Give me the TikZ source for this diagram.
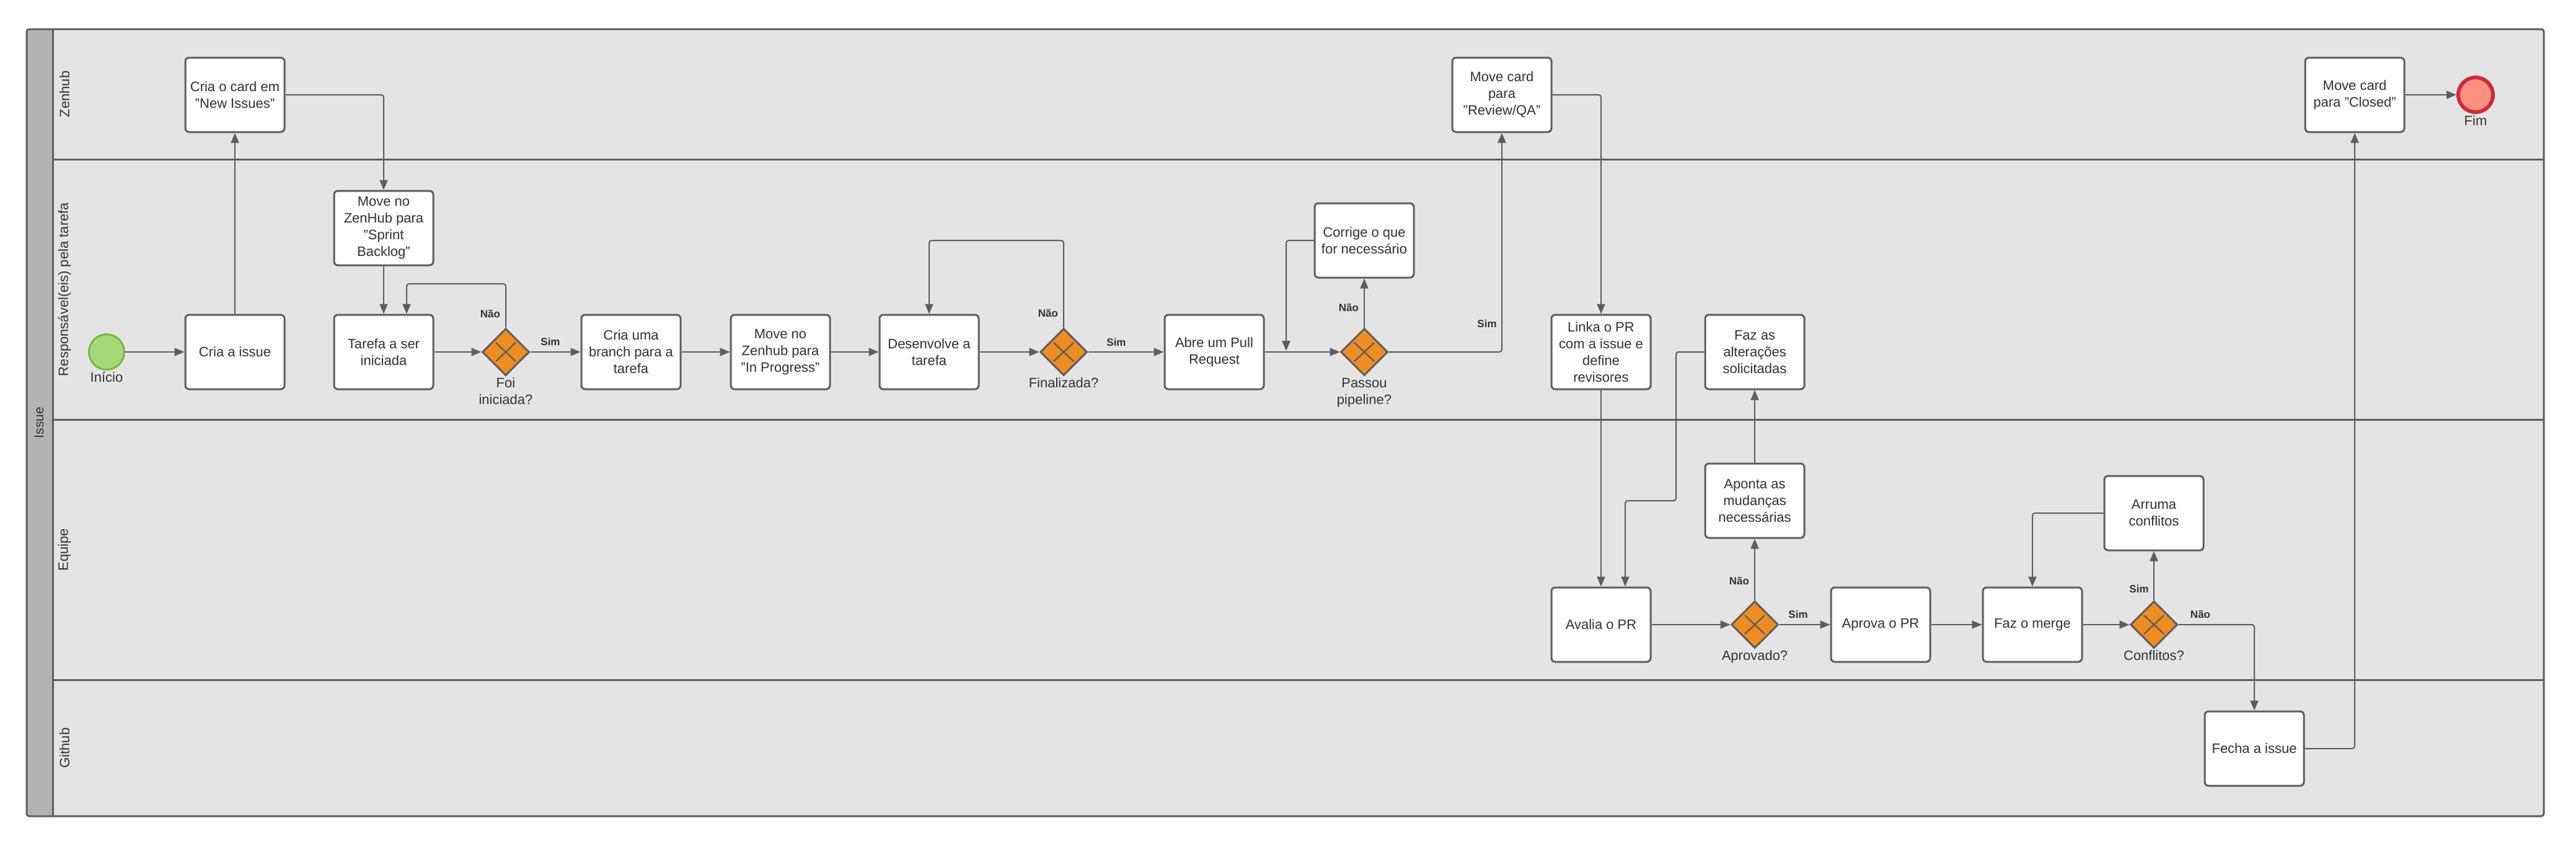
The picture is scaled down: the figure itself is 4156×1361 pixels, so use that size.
\documentclass[tikz,border=0pt]{standalone}
\usepackage{fontspec}
\setmainfont{Liberation Sans}
\usetikzlibrary{shapes.geometric,arrows.meta,positioning}

\definecolor{lanefill}{HTML}{E4E4E4}
\definecolor{barfill}{HTML}{B3B3B3}
\definecolor{linegray}{HTML}{5E5E5E}
\definecolor{textgray}{HTML}{333333}
\definecolor{gateorange}{HTML}{EF8D22}
\definecolor{startgreen}{HTML}{A3D977}
\definecolor{startline}{HTML}{7AB648}
\definecolor{endred}{HTML}{FF8F80}
\definecolor{endline}{HTML}{C92D39}

\begin{document}
\begin{tikzpicture}[x=0.5pt,y=-0.5pt,->,
			>={Triangle[length=8pt,width=6.5pt]},
			task/.style={rectangle,draw=linegray,line width=1.5pt,fill=white,rounded corners=3pt,minimum width=80pt,minimum height=60pt,inner sep=2pt,align=center,text=textgray,font=\fontsize{11}{13.5}\selectfont},
			gate/.style={diamond,draw=linegray,line width=1.5pt,fill=gateorange,minimum width=38pt,minimum height=38pt,inner sep=0pt},
			gate text/.style={align=center,inner sep=0pt,text=textgray,font=\fontsize{11}{13.5}\selectfont},
			answer/.style={inner sep=0pt,text=textgray,font=\bfseries\fontsize{8.5}{10}\selectfont},
			lane label/.style={rotate=90,text=textgray,font=\fontsize{11}{13}\selectfont},
			laneline/.style={draw=linegray,line width=1.5pt},
			flow/.style={draw=linegray,line width=1pt,rounded corners=2pt}
			]
			
			\useasboundingbox (0,0) rectangle (4156,1361);
			
			% pool and lanes
			\fill[lanefill,rounded corners=2pt] (43,47) rectangle (4104,1317);
			\fill[barfill,rounded corners=2pt] (85,47) -- (43,47) -- (43,1317) -- (85,1317) -- cycle;
			\draw[-,laneline] (85,47) -- (85,1317);
			\foreach \y in {257,677,1097} {
				\draw[-,laneline] (85,\y) -- (4104,\y);
			}
			\draw[-,laneline,rounded corners=2pt] (43,47) rectangle (4104,1317);
			
			\node[lane label,font=\fontsize{10.5}{12}\selectfont] (pool) at (63,682) {Issue};
			\foreach \i/\y/\t in {1/152/Zenhub,2/467/{Responsável(eis) pela tarefa},3/887/Equipe,4/1207/Github} {
				\node[lane label] (lane\i) at (104,\y) {\t};
			}
			
			% events
			\node[circle,draw=startline,fill=startgreen,line width=1.5pt,minimum size=28.5pt,inner sep=0pt] (inicio) at (172,568) {};
			\node[gate text,below=1pt of inicio] (inicioTxt) {Início};
			\node[circle,draw=endline,fill=endred,line width=3pt,minimum size=28pt,inner sep=0pt] (fim) at (3994,153) {};
			\node[gate text,below=1pt of fim] (fimTxt) {Fim};
			
			% tasks
			\node[task] (criaIssue) at (379,568) {Cria a issue};
			\node[task] (criaCard) at (379,153) {Cria o card em\\"New Issues"};
			\node[task] (sprint) at (619,368) {Move no\\ZenHub para\\"Sprint\\Backlog"};
			\node[task] (tarefa) at (619,568) {Tarefa a ser\\iniciada};
			\node[task] (branch) at (1018,568) {Cria uma\\branch para a\\tarefa};
			\node[task] (progress) at (1259,568) {Move no\\Zenhub para\\"In Progress"};
			\node[task] (desenv) at (1499,568) {Desenvolve a\\tarefa};
			\node[task] (abrePR) at (1959,568) {Abre um Pull\\Request};
			\node[task] (corrige) at (2201,388) {Corrige o que\\for necessário};
			\node[task] (review) at (2423,153) {Move card\\para\\"Review/QA"};
			\node[task] (linka) at (2583,568) {Linka o PR\\com a issue e\\define\\revisores};
			\node[task] (alteracoes) at (2831,568) {Faz as\\alterações\\solicitadas};
			\node[task] (avalia) at (2583,1008) {Avalia o PR};
			\node[task] (aponta) at (2831,808) {Aponta as\\mudanças\\necessárias};
			\node[task] (aprova) at (3034,1008) {Aprova o PR};
			\node[task] (merge) at (3279,1008) {Faz o merge};
			\node[task] (arruma) at (3475,828) {Arruma\\conflitos};
			\node[task] (fecha) at (3637,1208) {Fecha a issue};
			\node[task] (closed) at (3799,153) {Move card\\para "Closed"};
			
			% gateways
			\node[gate] (foiIni) at (816,568) {};
			\node[gate] (finaliz) at (1716,568) {};
			\node[gate] (pipeline) at (2201,568) {};
			\node[gate] (aprovado) at (2831,1008) {};
			\node[gate] (conflitos) at (3475,1008) {};
			\foreach \g in {foiIni,finaliz,pipeline,aprovado,conflitos} {
				\draw[-,draw=linegray,line width=1.2pt] ([shift={(-8pt,-7.5pt)}]\g.center) -- ([shift={(8pt,7.5pt)}]\g.center)
				([shift={(-8pt,7.5pt)}]\g.center) -- ([shift={(8pt,-7.5pt)}]\g.center);
			}
			\node[gate text,below=1pt of foiIni] (foiIniTxt) {Foi\\iniciada?};
			\node[gate text,below=1pt of finaliz] (finalizTxt) {Finalizada?};
			\node[gate text,below=1pt of pipeline] (pipelineTxt) {Passou\\pipeline?};
			\node[gate text,below=1pt of aprovado] (aprovadoTxt) {Aprovado?};
			\node[gate text,below=1pt of conflitos] (conflitosTxt) {Conflitos?};
			
			% bends
			\coordinate (loopA) at (656,458);
			\coordinate (loopB) at (1499,388);
			\coordinate (joinPR) at (2075,566);
			\coordinate (joinA) at (2704,808);
			
			% flows
			\draw[flow] (inicio) -- (criaIssue);
			\draw[flow] (criaIssue) -- (criaCard);
			\draw[flow] (criaCard) -| (sprint);
			\draw[flow] (sprint) -- (tarefa);
			\draw[flow] (tarefa) -- (foiIni);
			\draw[flow] (foiIni) |- (loopA) -- (loopA |- tarefa.north);
			\draw[flow] (foiIni) -- (branch);
			\draw[flow] (branch) -- (progress);
			\draw[flow] (progress) -- (desenv);
			\draw[flow] (desenv) -- (finaliz);
			\draw[flow] (finaliz) |- (loopB) -- (desenv);
			\draw[flow] (finaliz) -- (abrePR);
			\draw[flow] (abrePR) -- (pipeline);
			\draw[flow] (pipeline) -- (corrige);
			\draw[flow] (corrige) -| (joinPR);
			\draw[flow] (pipeline) -| (review);
			\draw[flow] (review) -| (linka);
			\draw[flow] (linka) -- (avalia);
			\draw[flow] (alteracoes) -| (joinA) -| ([xshift=19.5pt]avalia.north);
			\draw[flow] (avalia) -- (aprovado);
			\draw[flow] (aprovado) -- (aponta);
			\draw[flow] (aponta) -- (alteracoes);
			\draw[flow] (aprovado) -- (aprova);
			\draw[flow] (aprova) -- (merge);
			\draw[flow] (merge) -- (conflitos);
			\draw[flow] (conflitos) -- (arruma);
			\draw[flow] (arruma) -| (merge);
			\draw[flow] (conflitos) -| (fecha);
			\draw[flow] (fecha) -| (closed);
			\draw[flow] (closed) -- (fim);
			
			% answers
			\node[answer] (nao1) at (791,506) {Não};
			\node[answer] (sim1) at (888,551) {Sim};
			\node[answer] (nao2) at (1691,505) {Não};
			\node[answer] (sim2) at (1801,552) {Sim};
			\node[answer] (nao3) at (2176,496) {Não};
			\node[answer] (sim3) at (2399,522) {Sim};
			\node[answer] (nao4) at (2806,937) {Não};
			\node[answer] (sim4) at (2901,991) {Sim};
			\node[answer] (sim5) at (3451,950) {Sim};
			\node[answer] (nao5) at (3550,991) {Não};
			
\end{tikzpicture}
\end{document}
